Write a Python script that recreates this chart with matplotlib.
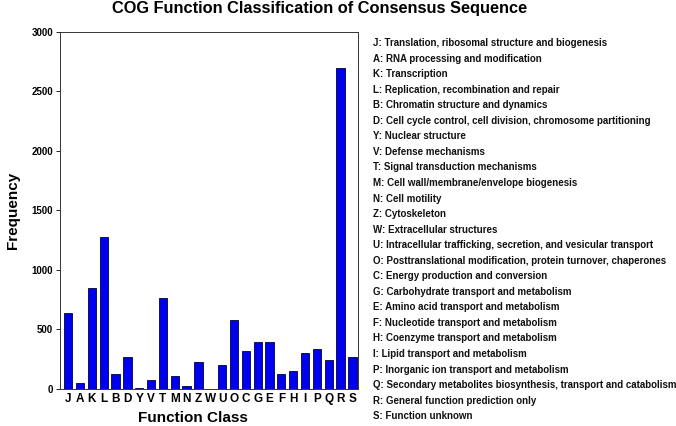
import matplotlib
matplotlib.use("Agg")
import matplotlib.pyplot as plt

# COG categories and counts
classes = ["J", "A", "K", "L", "B", "D", "Y", "V", "T", "M", "N", "Z", "W",
           "U", "O", "C", "G", "E", "F", "H", "I", "P", "Q", "R", "S"]
counts = [641, 53, 846, 1275, 123, 266, 6, 73, 767, 109, 22, 227, 0,
          202, 577, 319, 398, 398, 129, 148, 300, 339, 241, 2700, 270]
descriptions = [
    "Translation, ribosomal structure and biogenesis",
    "RNA processing and modification",
    "Transcription",
    "Replication, recombination and repair",
    "Chromatin structure and dynamics",
    "Cell cycle control, cell division, chromosome partitioning",
    "Nuclear structure",
    "Defense mechanisms",
    "Signal transduction mechanisms",
    "Cell wall/membrane/envelope biogenesis",
    "Cell motility",
    "Cytoskeleton",
    "Extracellular structures",
    "Intracellular trafficking, secretion, and vesicular transport",
    "Posttranslational modification, protein turnover, chaperones",
    "Energy production and conversion",
    "Carbohydrate transport and metabolism",
    "Amino acid transport and metabolism",
    "Nucleotide transport and metabolism",
    "Coenzyme transport and metabolism",
    "Lipid transport and metabolism",
    "Inorganic ion transport and metabolism",
    "Secondary metabolites biosynthesis, transport and catabolism",
    "General function prediction only",
    "Function unknown",
]
yticks = [0, 500, 1000, 1500, 2000, 2500, 3000]

plt.rcParams['font.family'] = ['Liberation Sans', 'DejaVu Sans']

fig = plt.figure(figsize=(6.76, 4.26), dpi=100)
ax = fig.add_axes([0.089, 0.087, 0.441, 0.838])

x = range(len(classes))
ax.bar(x, counts, width=0.7, color='#0000f0', edgecolor='#00003a', linewidth=0.6)

ax.set_xlim(-0.68, len(classes) - 0.5)
ax.set_ylim(0, 3000)
ax.set_yticks(yticks)
ax.set_yticklabels([str(v) for v in yticks], fontsize=7, fontweight='bold')
ax.set_xticks(list(x))
ax.set_xticklabels(classes, fontsize=8.5, fontweight='bold')
ax.tick_params(axis='x', length=0, pad=3)
ax.tick_params(axis='y', length=3, width=0.6, pad=2)
for s in ax.spines.values():
    s.set_linewidth(0.7)
    s.set_color('#333333')

ax.set_ylabel('Frequency', fontsize=11, fontweight='bold', labelpad=8)
ax.set_xlabel('Function Class', fontsize=11, fontweight='bold')
ax.xaxis.set_label_coords(0.446, -0.063)
fig.suptitle('COG Function Classification of Consensus Sequence',
             fontsize=11.8, fontweight='bold', x=0.472, y=0.997)

# category legend on the right
top = 1 - 43 / 426
step = 15.55 / 426
for i, (c, d) in enumerate(zip(classes, descriptions)):
    fig.text(0.552, top - i * step, f"{c}: {d}", fontsize=7.0,
             fontweight='bold', va='center', ha='left', color='#111111')

fig.savefig('out.png', dpi=100)
